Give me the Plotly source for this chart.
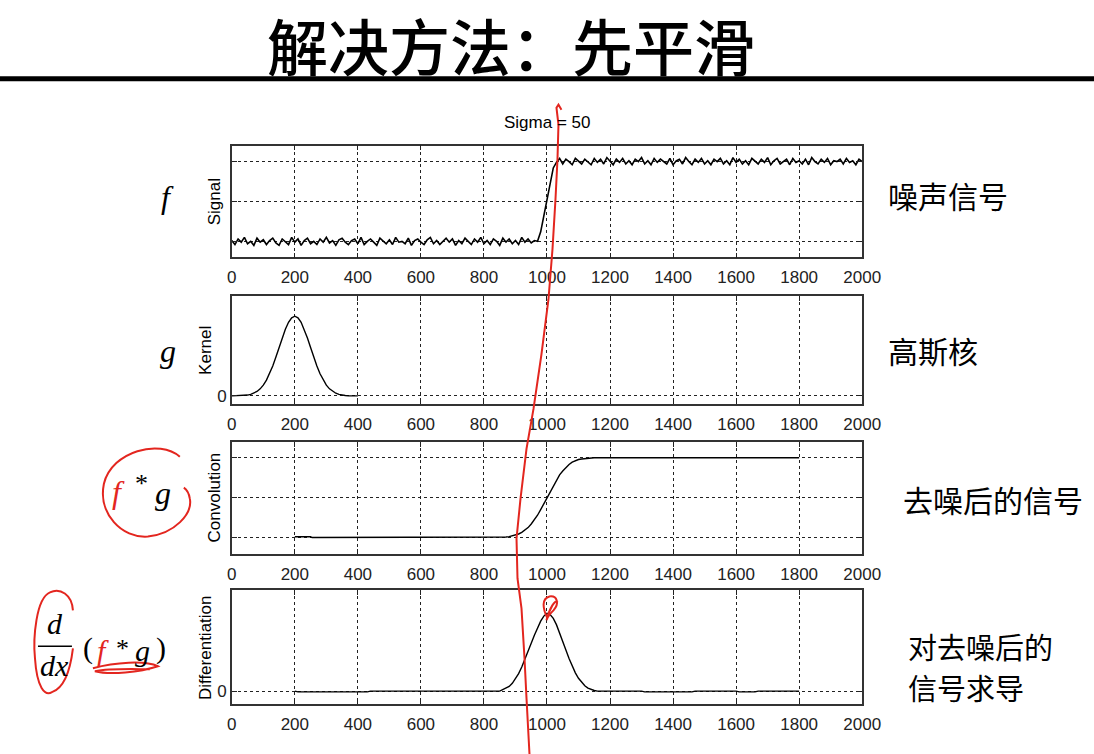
import plotly.graph_objects as go

W, H = 1094, 754
# the page is photographed with a slight horizontal squeeze; positions below are
# target pixel positions and are mapped through this correction
OX, SX = 5.0, 0.979

# ---------------- data ----------------
x_ticks = [0, 200, 400, 600, 800, 1000, 1200, 1400, 1600, 1800, 2000]
x_tick_labels = ["0", "200", "400", "600", "800", "1000", "1200", "1400", "1600", "1800", "2000"]

signal_low = [0.01, -0.04, 0.03, -0.01, 0.05, -0.03, 0.00, -0.05, 0.04, -0.01,
              0.02, -0.04, 0.01, 0.04, -0.02, -0.05, 0.03, 0.00, -0.04, 0.05,
              -0.01, 0.03, -0.05, 0.01, 0.04, -0.03, 0.00, -0.04, 0.03, -0.01,
              0.05, -0.02, 0.01, -0.05, 0.02, 0.04, -0.01, -0.04, 0.01, 0.03,
              -0.03, 0.05, -0.04, 0.00, 0.03, -0.01, -0.05, 0.04, 0.01, -0.03,
              0.02, -0.04, 0.05, -0.01, 0.00, -0.03, 0.04, -0.05, 0.01, 0.03,
              -0.01, -0.04, 0.02, 0.05, -0.03, 0.01, -0.04, 0.00, 0.04, -0.01,
              0.03, -0.05, 0.01, -0.03, 0.04, 0.00, -0.04, 0.03, -0.01, 0.05,
              -0.03, 0.01, -0.04, 0.03, 0.00, -0.05, 0.04, -0.01, 0.03, -0.03,
              0.01, -0.04, 0.05, -0.01, 0.03, -0.02, 0.01]
signal_ramp = [0.00, 0.12, 0.32, 0.52, 0.72, 0.92]
signal_high = [0.99, 1.04, 0.97, 1.03, 1.00, 0.96, 1.04, 1.01, 0.97, 1.03,
               1.00, 0.96, 1.04, 0.99, 1.03, 0.97, 1.05, 1.00, 0.96, 1.03,
               0.99, 1.04, 0.97, 1.01, 0.96, 1.03, 1.00, 1.05, 0.97, 1.01,
               0.96, 1.04, 0.99, 1.03, 1.00, 0.97, 1.04, 0.96, 1.01, 1.03,
               0.97, 1.05, 1.00, 0.96, 1.03, 0.99, 1.04, 0.97, 1.01, 0.96,
               1.03, 1.00, 1.04, 0.97, 1.01, 0.96, 1.05, 0.99, 1.03, 0.97,
               1.01, 0.96, 1.04, 1.00, 0.97, 1.03, 0.99, 1.05, 0.96, 1.01,
               1.04, 0.97, 1.00, 1.03, 0.96, 1.04, 0.99, 1.01, 0.97, 1.03,
               0.96, 1.05, 1.00, 0.97, 1.03, 0.99, 1.04, 0.96, 1.01, 1.00,
               1.03, 0.97, 1.04, 0.99, 1.01, 0.96, 1.03, 1.00]
signal_y = signal_low + signal_ramp + signal_high
signal_x = [10 * i for i in range(len(signal_y))]

kernel_x = list(range(0, 401, 10))
kernel_y = [0.0003, 0.0007, 0.0015, 0.003, 0.006, 0.011, 0.020, 0.034, 0.056, 0.089,
            0.135, 0.198, 0.278, 0.375, 0.487, 0.607, 0.726, 0.835, 0.923, 0.980,
            1.000,
            0.980, 0.923, 0.835, 0.726, 0.607, 0.487, 0.375, 0.278, 0.198, 0.135,
            0.089, 0.056, 0.034, 0.020, 0.011, 0.006, 0.003, 0.0015, 0.0007, 0.0003]

conv_x = [200, 250, 255, 840] + list(range(850, 1151, 10)) + [1800]
conv_y = [0.01, 0.01, 0.0, 0.0,
          0.005, 0.005, 0.008, 0.012, 0.02, 0.03, 0.045, 0.065, 0.09, 0.125,
          0.17, 0.22, 0.28, 0.35, 0.425, 0.5, 0.575, 0.65, 0.72, 0.785,
          0.835, 0.88, 0.915, 0.945, 0.965, 0.978, 0.985, 0.99, 0.995, 1.0, 1.0,
          1.0]

diff_x = [200, 210, 430, 440] + list(range(850, 1151, 10)) + [1160, 1300, 1310, 1460, 1470, 1600, 1610, 1660, 1670, 1800]
diff_y = [0.0, -0.01, -0.01, 0.0,
          0.0, 0.02, 0.035, 0.06, 0.1, 0.155, 0.225, 0.31, 0.405, 0.51, 0.615,
          0.72, 0.815, 0.9, 0.965, 1.0, 0.985, 0.935, 0.855, 0.755, 0.645,
          0.53, 0.42, 0.32, 0.235, 0.165, 0.11, 0.07, 0.04, 0.02, 0.008,
          0.0, 0.0, -0.01, -0.01, 0.0, 0.0, -0.01, -0.01, 0.0, 0.0]

panel_ticks = [[0, 0.5, 1], [0], [0, 0.5, 1], [0]]
panel_tick_labels = [["", "", ""], ["0"], ["", "", ""], ["0"]]
panel_ranges = [[-0.2, 1.2], [-0.1, 1.25], [-0.2, 1.2], [-0.167, 1.295]]
panel_ylabels = ["Signal", "Kernel", "Convolution", "Differentiation"]
right_labels = ["噪声信号", "高斯核", "去噪后的信号", "对去噪后的", "信号求导"]
title_text = "解决方法：先平滑"
subtitle_text = "Sigma = 50"

def px(x):
    return ((x - OX) / SX) / W

def py(y):
    return 1 - y / H

panel_px = [(146, 258), (297, 405), (443, 555), (592, 706)]
x_left, x_right = 232, 863

fig = go.Figure()
series = [(signal_x, signal_y), (kernel_x, kernel_y), (conv_x, conv_y), (diff_x, diff_y)]
widths = [1.6, 1.4, 1.4, 1.4]
for i, (xs, ys) in enumerate(series):
    n = "" if i == 0 else str(i + 1)
    fig.add_trace(go.Scatter(x=xs, y=ys, mode="lines", xaxis="x" + n, yaxis="y" + n,
                             line=dict(color="black", width=widths[i]), showlegend=False,
                             hoverinfo="skip"))

tickfont = dict(family="Liberation Sans, Arial, sans-serif", size=17, color="#222")
layout = dict(width=W, height=H, autosize=False, margin=dict(l=0, r=0, t=0, b=0, pad=0),
              paper_bgcolor="white", plot_bgcolor="white", showlegend=False)
for i in range(4):
    n = "" if i == 0 else str(i + 1)
    top, bot = panel_px[i]
    layout["xaxis" + n] = dict(
        domain=[px(x_left), px(x_right)], range=[0, 2000], anchor="y" + n,
        tickvals=x_ticks, ticktext=x_tick_labels, ticks="inside", ticklen=5,
        tickcolor="#222", showline=True, linecolor="#333", linewidth=1.5,
        mirror="allticks", showgrid=True, gridcolor="#222", griddash="dot",
        gridwidth=1, zeroline=False, tickfont=tickfont, ticklabelstandoff=4,
        fixedrange=True)
    layout["yaxis" + n] = dict(
        domain=[py(bot), py(top)], range=panel_ranges[i], anchor="x" + n,
        tickvals=panel_ticks[i], ticktext=panel_tick_labels[i], ticks="inside",
        ticklen=5, tickcolor="#222", showline=True, linecolor="#333",
        linewidth=1.5, mirror="allticks", showgrid=True, gridcolor="#222",
        griddash="dot", gridwidth=1, zeroline=False, tickfont=tickfont,
        fixedrange=True)
fig.update_layout(**layout)

ann = []
def text(x, y, s, size, family="Liberation Sans, Arial, sans-serif", color="black",
         xanchor="center", angle=0, weight="normal"):
    ann.append(dict(x=px(x), y=py(y), xref="paper", yref="paper", text=s,
                    showarrow=False, xanchor=xanchor, yanchor="middle",
                    textangle=angle,
                    font=dict(size=size, family=family, color=color, weight=weight)))

cjk = "Noto Sans CJK SC, sans-serif"
serif = "Liberation Serif, DejaVu Serif, serif"
red = "#e3261f"

text(511, 45, title_text, 61, family=cjk, weight=500)
text(548, 123, subtitle_text, 17)

ylab_x = [215, 205, 215, 205]
for i in range(4):
    top, bot = panel_px[i]
    text(ylab_x[i], (top + bot) / 2, panel_ylabels[i], 17, angle=-90)

text(887, 196, right_labels[0], 30, family=cjk, xanchor="left")
text(887, 351, right_labels[1], 30, family=cjk, xanchor="left")
text(902, 500, right_labels[2], 30, family=cjk, xanchor="left")
text(907, 648, right_labels[3], 29, family=cjk, xanchor="left")
text(907, 689, right_labels[4], 29, family=cjk, xanchor="left")

text(168, 198, "<i>f</i>", 32, family=serif)
text(168, 352, "<i>g</i>", 32, family=serif)
text(119, 493, "<i>f</i>", 32, family=serif, color=red)
text(142, 485, "*", 26, family=serif)
text(163, 494, "<i>g</i>", 32, family=serif)
text(55, 625, "<i>d</i>", 30, family=serif)
text(55, 667, "<i>dx</i>", 30, family=serif)
text(88, 650, "(", 30, family=serif)
text(103, 652, "<i>f</i>", 30, family=serif, color=red)
text(123, 650, "*", 26, family=serif)
text(143, 652, "<i>g</i>", 30, family=serif)
text(161, 650, ")", 30, family=serif)
fig.update_layout(annotations=ann)

def path_from(points):
    parts = []
    for k, (x, y) in enumerate(points):
        parts.append(("M" if k == 0 else "L") + f" {px(x):.5f},{py(y):.5f}")
    return " ".join(parts)

def cpath(cmds):
    out = []
    for c in cmds:
        op = c[0]
        coords = c[1:]
        pts = " ".join(f"{px(coords[j]):.5f},{py(coords[j+1]):.5f}" for j in range(0, len(coords), 2))
        out.append(op + " " + pts)
    return " ".join(out)

shapes = []
shapes.append(dict(type="line", xref="paper", yref="paper", x0=-0.02, x1=1.02, y0=py(79), y1=py(79),
                   line=dict(color="black", width=5)))
shapes.append(dict(type="line", xref="paper", yref="paper", x0=px(38), x1=px(72),
                   y0=py(648), y1=py(648), line=dict(color="black", width=1.5)))

red_line = dict(color=red, width=2)
stroke = [(562, 110), (559, 105), (557, 108), (559, 125), (558, 160), (556, 200), (553, 250),
          (549, 300), (542, 355), (534, 410), (527, 450), (521, 500), (517, 540),
          (518, 580), (522, 610), (525, 660), (527, 700), (530, 756)]
shapes.append(dict(type="path", xref="paper", yref="paper", path=path_from(stroke), line=red_line))
shapes.append(dict(type="path", xref="paper", yref="paper", line=red_line,
                   path=cpath([("M", 180, 458), ("C", 160, 440, 112, 452, 104, 485),
                               ("C", 98, 515, 122, 540, 148, 538),
                               ("C", 175, 535, 193, 515, 190, 500),
                               ("C", 189, 494, 187, 491, 184, 489)])))
shapes.append(dict(type="path", xref="paper", yref="paper", line=red_line,
                   path=cpath([("M", 73, 612), ("C", 72, 596, 60, 589, 50, 594),
                               ("C", 36, 600, 33, 640, 35, 660),
                               ("C", 37, 690, 45, 698, 52, 694),
                               ("C", 63, 690, 70, 675, 73, 650)])))
shapes.append(dict(type="path", xref="paper", yref="paper", line=red_line,
                   path=cpath([("M", 93, 670), ("C", 115, 664, 145, 662, 158, 668),
                               ("C", 140, 674, 110, 677, 95, 673),
                               ("C", 110, 670, 135, 671, 150, 671)])))
shapes.append(dict(type="path", xref="paper", yref="paper", line=red_line,
                   path=cpath([("M", 548, 620), ("C", 543, 610, 542, 600, 550, 598),
                               ("C", 558, 597, 560, 605, 554, 612),
                               ("C", 550, 616, 548, 618, 547, 622),
                               ("C", 550, 610, 556, 600, 558, 604)])))
fig.update_layout(shapes=shapes)

fig.write_html("out.html", config={"displayModeBar": False, "responsive": False})
